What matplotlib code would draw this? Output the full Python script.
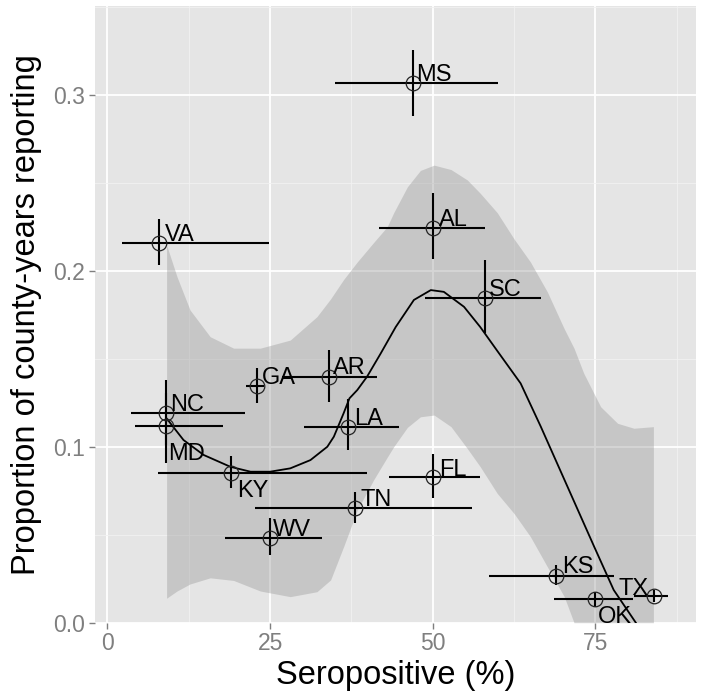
import matplotlib
matplotlib.use("Agg")
import matplotlib.pyplot as plt
from matplotlib.ticker import MultipleLocator

plt.rcParams['font.family'] = ['Liberation Sans', 'DejaVu Sans']

# ---- data ----
states = ["VA", "MS", "AL", "SC", "GA", "AR", "NC", "MD", "LA", "KY", "FL", "TN", "WV", "KS", "OK", "TX"]
sero = [8.0, 47.0, 50.0, 58.0, 23.0, 34.0, 9.0, 9.0, 37.0, 19.0, 50.0, 38.0, 25.0, 69.0, 75.0, 84.0]
sero_lo = [2.3, 35.0, 41.8, 48.8, 21.3, 26.8, 3.6, 4.2, 30.2, 7.8, 43.2, 22.7, 18.1, 58.6, 68.7, 80.9]
sero_hi = [24.9, 60.0, 58.1, 66.6, 24.1, 41.5, 21.1, 17.8, 44.8, 39.9, 57.2, 56.0, 33.0, 77.8, 80.7, 86.2]
prop = [0.2159, 0.3065, 0.2244, 0.1843, 0.1347, 0.1394, 0.1193, 0.1118, 0.1114, 0.0852,
        0.0830, 0.0650, 0.0480, 0.0267, 0.0133, 0.0152]
prop_lo = [0.2032, 0.2881, 0.2065, 0.1648, 0.1250, 0.1256, 0.1007, 0.0906, 0.0981, 0.0764,
           0.0710, 0.0565, 0.0385, 0.0214, 0.0091, 0.0120]
prop_hi = [0.2292, 0.3254, 0.2440, 0.2060, 0.1445, 0.1550, 0.1379, 0.1304, 0.1269, 0.0947,
           0.0959, 0.0744, 0.0593, 0.0328, 0.0176, 0.0186]

# smoothed fit
smooth_x = [9.1, 11.7, 14.8, 18.9, 22.0, 25.0, 28.1, 31.2, 33.8, 34.8, 36.3, 37.2, 38.4, 39.9,
            42.0, 44.3, 47.1, 49.7, 51.7, 54.8, 57.3, 60.0, 63.5, 66.6, 70.7, 74.8, 77.8, 81.2]
smooth_y = [0.1161, 0.1038, 0.0953, 0.0886, 0.0858, 0.0858, 0.0877, 0.0924, 0.1000, 0.1057,
            0.1190, 0.1275, 0.1322, 0.1398, 0.1530, 0.1680, 0.1834, 0.1890, 0.1880, 0.1795,
            0.1680, 0.1540, 0.1360, 0.1114, 0.0773, 0.0432, 0.0186, 0.0000]

# confidence band (clipped at 0)
band_x = [9.1, 10.7, 12.7, 15.8, 19.4, 23.5, 28.1, 32.2, 34.3, 36.3, 38.4, 40.9, 43.0, 44.0,
          46.1, 48.1, 50.2, 52.8, 55.3, 57.3, 59.9, 62.5, 65.0, 67.6, 70.2, 71.7, 73.2, 75.8,
          78.4, 80.9, 83.9]
band_hi = [0.2146, 0.1966, 0.1777, 0.1625, 0.1560, 0.1560, 0.1606, 0.1739, 0.1840, 0.1950,
           0.2050, 0.2160, 0.2250, 0.2330, 0.2477, 0.2570, 0.2600, 0.2575, 0.2516, 0.2440,
           0.2330, 0.2180, 0.2050, 0.1880, 0.1670, 0.1560, 0.1417, 0.1227, 0.1133, 0.1105, 0.1114]
band_lo = [0.0139, 0.0180, 0.0220, 0.0255, 0.0240, 0.0180, 0.0148, 0.0176, 0.0243, 0.0432,
           0.0640, 0.0811, 0.0940, 0.1000, 0.1110, 0.1170, 0.1180, 0.1114, 0.0990, 0.0886,
           0.0735, 0.0620, 0.0489, 0.0318, 0.0148, 0.0000, 0.0000, 0.0000, 0.0000, 0.0000, 0.0000]

x_ticks = [0, 25, 50, 75]
y_ticks = [0.0, 0.1, 0.2, 0.3]
x_ticklabels = ["0", "25", "50", "75"]
y_ticklabels = ["0.0", "0.1", "0.2", "0.3"]

# label placement (pixel offsets and alignment) -- layout only
label_layout = {
    "VA": (5, 2, "left"), "MS": (3, 2, "left"), "AL": (6, 2, "left"), "SC": (4, 2, "left"),
    "GA": (5, 2, "left"), "AR": (4, 3, "left"), "NC": (4, 2, "left"), "MD": (2, -34, "left"),
    "LA": (6, 2, "left"), "KY": (6, -24, "left"), "FL": (6, 1, "left"), "TN": (6, 2, "left"),
    "WV": (3, 2, "left"), "KS": (6, 3, "left"), "OK": (2, -24, "left"), "TX": (-5, 1, "right"),
}

# ---- figure ----
fig = plt.figure(figsize=(7.02, 6.98), dpi=100)
ax = fig.add_axes([95 / 702, 1 - 622.7 / 698, (695.7 - 95) / 702, (622.7 - 5.7) / 698])
ax.set_facecolor("#E5E5E5")

ax.set_xlim(-1.9, 90.4)
ax.set_ylim(0.0, 0.3506)

ax.set_xticks(x_ticks)
ax.set_xticklabels(x_ticklabels)
ax.set_yticks(y_ticks)
ax.set_yticklabels(y_ticklabels)
ax.xaxis.set_minor_locator(MultipleLocator(12.5))
ax.yaxis.set_minor_locator(MultipleLocator(0.05))

ax.grid(True, which="major", color="white", linewidth=1.3, zorder=0)
ax.grid(True, which="minor", color="#F2F2F2", linewidth=0.6, zorder=0)
ax.set_axisbelow(True)
for s in ax.spines.values():
    s.set_visible(False)

ax.tick_params(axis="both", which="major", color="#7F7F7F", length=4, width=1,
               labelsize=16.5, labelcolor="#7F7F7F", pad=3)
ax.tick_params(axis="both", which="minor", length=0)

# confidence band
ax.fill_between(band_x, band_lo, band_hi, color="#999999", alpha=0.4, linewidth=0, zorder=1)
# smooth line
ax.plot(smooth_x, smooth_y, color="black", linewidth=1.3, zorder=2)

# error bars
ax.hlines(prop, sero_lo, sero_hi, color="black", linewidth=1.5, zorder=3)
ax.vlines(sero, prop_lo, prop_hi, color="black", linewidth=1.5, zorder=3)

# points
ax.plot(sero, prop, linestyle="none", marker="o", markersize=10.5, markerfacecolor="none",
        markeredgecolor="#222222", markeredgewidth=0.9, zorder=4)

# labels
for st, xv, yv in zip(states, sero, prop):
    dx, dy, ha = label_layout[st]
    ax.annotate(st, (xv, yv), xytext=(dx, dy), textcoords="offset pixels",
                ha=ha, va="baseline", fontsize=17, color="black", zorder=5,
                annotation_clip=False)

ax.set_xlabel("Seropositive (%)", fontsize=23.5, labelpad=3)
ax.set_ylabel("Proportion of county-years reporting", fontsize=23.5, labelpad=8)

fig.savefig("out.png", dpi=100, facecolor="white")
